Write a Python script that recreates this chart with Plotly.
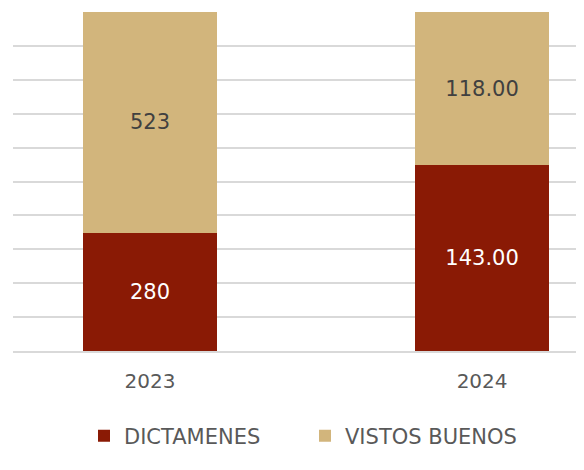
import plotly.graph_objects as go

years = ["2023", "2024"]
dictamenes = [280, 143]
vistos_buenos = [523, 118]
dict_labels = ["280", "143.00"]
vistos_labels = ["523", "118.00"]

FONT = "DejaVu Sans"
fig = go.Figure()
fig.add_trace(go.Bar(
    x=years, y=dictamenes, name="DICTAMENES",
    marker=dict(color="#8A1A05", line=dict(width=0)),
    text=dict_labels, textposition="inside", insidetextanchor="middle",
    textfont=dict(color="white", size=21, family=FONT),
    width=0.404, hoverinfo="skip",
))
fig.add_trace(go.Bar(
    x=years, y=vistos_buenos, name="VISTOS BUENOS",
    marker=dict(color="#D2B57C", line=dict(width=0)),
    text=vistos_labels, textposition="inside", insidetextanchor="middle",
    textfont=dict(color="#404040", size=21, family=FONT),
    width=0.404, hoverinfo="skip",
))
fig.update_layout(
    width=584, height=470,
    barmode="stack", barnorm="fraction",
    margin=dict(l=5, r=0, t=4, b=127),
    plot_bgcolor="white", paper_bgcolor="white",
    font=dict(family=FONT, color="#595959"),
    xaxis=dict(
        type="category", range=[-0.4127, 1.331],
        tickfont=dict(size=20, color="#595959"),
        ticks="outside", ticklen=11, tickcolor="rgba(0,0,0,0)",
        showline=True, linecolor="#d9d9d9", linewidth=1.5,
        showgrid=False, fixedrange=True,
    ),
    yaxis=dict(
        range=[0, 1], dtick=0.1, showticklabels=False,
        showgrid=True, gridcolor="#d9d9d9", gridwidth=1.5,
        zeroline=False, showline=False, fixedrange=True,
    ),
    legend=dict(
        orientation="h", xref="container", yref="container",
        x=76 / 584, xanchor="left", y=1 - 428 / 470, yanchor="middle",
        font=dict(size=21, color="#595959"),
        itemwidth=30, traceorder="normal", entrywidth=176,
    ),
    showlegend=True,
)
fig.write_html("out.html")
